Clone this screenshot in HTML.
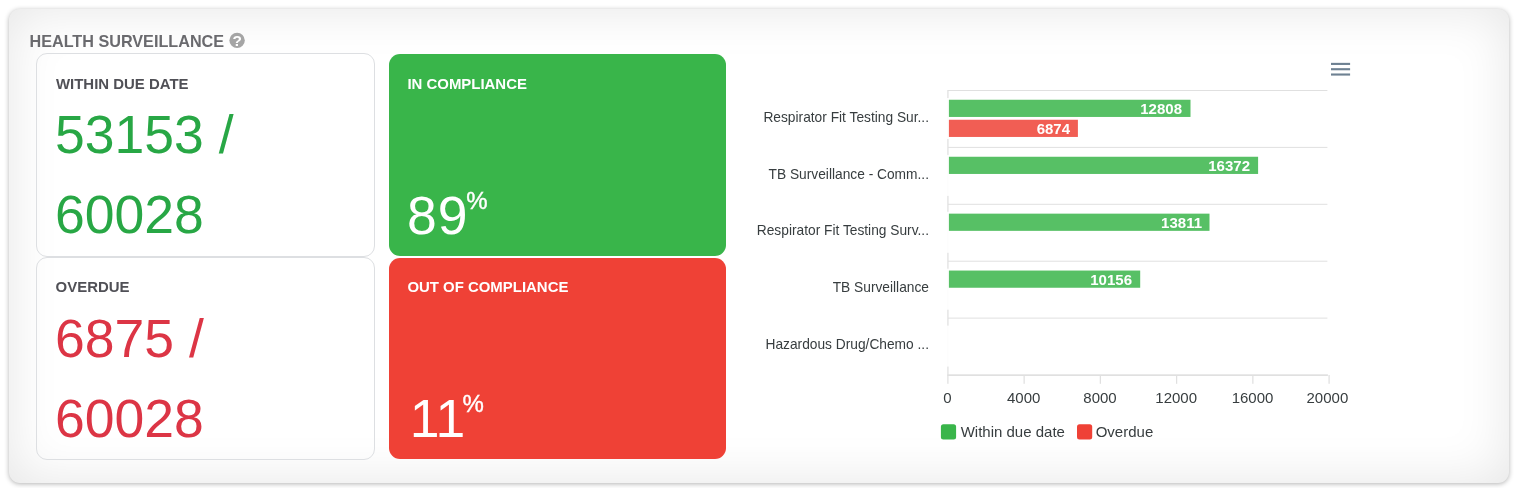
<!DOCTYPE html>
<html>
<head>
<meta charset="utf-8">
<style>
*{box-sizing:border-box;margin:0;padding:0}
html,body{width:1518px;height:488px;background:#fff;overflow:hidden;font-family:"Liberation Sans",Arial,sans-serif}
.panel{position:absolute;left:9px;top:9px;width:1500px;height:473.75px;border-radius:11px;background:#fff;box-shadow:inset 0 0 52px rgba(0,0,0,.10),0 1px 5px rgba(0,0,0,.30)}
.title{position:absolute;left:29.5px;top:32px;font-size:16.2px;font-weight:bold;color:#6a6a6e;line-height:18px;white-space:nowrap}
.help{position:absolute;left:228px;top:31px;width:18px;height:18px}
.card{position:absolute;width:339px;border-radius:11px}
.card.w{background:transparent;border:1px solid #dddfe2}
.lbl{position:absolute;left:19px;top:20.6px;font-size:14.95px;font-weight:bold;line-height:18px;color:#505056;white-space:nowrap}
.big{position:absolute;left:18px;font-size:53.5px;line-height:80.25px;white-space:nowrap}
.g{color:#28a745}.r{color:#dc3545}
.pct{position:absolute;font-size:24px;line-height:24px;color:#fff;-webkit-text-stroke:0.4px #fff}
svg text{font-family:"Liberation Sans",Arial,sans-serif}
</style>
</head>
<body>
<div class="panel"></div>
<div class="title">HEALTH SURVEILLANCE</div>
<svg class="help" viewBox="0 0 18 18"><circle cx="9.1" cy="9.4" r="7.7" fill="#a5a5a5"/><text x="9.2" y="15.3" font-size="15.4" font-weight="bold" fill="#fff" text-anchor="middle">?</text></svg>

<div class="card w" style="left:36px;top:53px;height:204px">
  <div class="lbl">WITHIN DUE DATE</div>
  <div class="big g" style="top:40.7px">53153 /</div>
  <div class="big g" style="top:120.95px">60028</div>
</div>
<div class="card w" style="left:36px;top:257px;height:203px">
  <div class="lbl" style="top:19.9px;left:18.6px">OVERDUE</div>
  <div class="big r" style="top:40.5px">6875 /</div>
  <div class="big r" style="top:120.8px">60028</div>
</div>
<div class="card" style="left:389px;top:54px;width:337px;height:202px;background:#39b54a">
  <div class="lbl" style="color:#fff;left:18.4px">IN COMPLIANCE</div>
  <div class="big" style="color:#fff;top:121.7px;letter-spacing:1.1px">89</div>
  <div class="pct" style="left:77.3px;top:134.8px">%</div>
</div>
<div class="card" style="left:389px;top:258px;width:337px;height:201px;background:#ef4136">
  <div class="lbl" style="color:#fff;left:18.4px;top:19.7px">OUT OF COMPLIANCE</div>
  <div class="big" style="color:#fff;top:120.8px;left:20.7px">11</div>
  <div class="pct" style="left:73.5px;top:134.1px">%</div>
</div>

<svg style="position:absolute;left:740px;top:50px" width="640" height="410" viewBox="740 50 640 410">
  <g fill="#6e8192"><rect x="1331" y="62.85" width="19.1" height="2.12"/><rect x="1331" y="68.16" width="19.1" height="2.12"/><rect x="1331" y="73.47" width="19.1" height="2.12"/></g>
  <rect x="947.3" y="90" width="1.25" height="285" fill="#e0e0e0"/>
  <rect x="946" y="98.0" width="3" height="41" fill="#fff" fill-opacity="0.9"/>
  <rect x="946" y="154.9" width="3" height="41" fill="#fff" fill-opacity="0.9"/>
  <rect x="946" y="211.8" width="3" height="41" fill="#fff" fill-opacity="0.9"/>
  <rect x="946" y="268.7" width="3" height="41" fill="#fff" fill-opacity="0.9"/>
  <rect x="946" y="325.6" width="3" height="41" fill="#fff" fill-opacity="0.9"/>
  <rect x="948" y="90.00" width="379.4" height="1" fill="#e0e0e0"/>
  <rect x="948" y="146.90" width="379.4" height="1" fill="#e0e0e0"/>
  <rect x="948" y="203.80" width="379.4" height="1" fill="#e0e0e0"/>
  <rect x="948" y="260.70" width="379.4" height="1" fill="#e0e0e0"/>
  <rect x="948" y="317.60" width="379.4" height="1" fill="#e0e0e0"/>
  <rect x="947.3" y="374.3" width="380.6" height="1.7" fill="#e0e0e0"/>
  <rect x="947.27" y="375" width="1.25" height="8.8" fill="#e0e0e0"/>
  <rect x="1023.51" y="375" width="1.25" height="8.8" fill="#e0e0e0"/>
  <rect x="1099.75" y="375" width="1.25" height="8.8" fill="#e0e0e0"/>
  <rect x="1175.99" y="375" width="1.25" height="8.8" fill="#e0e0e0"/>
  <rect x="1252.23" y="375" width="1.25" height="8.8" fill="#e0e0e0"/>
  <rect x="1328.47" y="375" width="1.25" height="8.8" fill="#e0e0e0"/>
  <rect x="948.9" y="99.75" width="241.6" height="17.2" fill="#57c065"/>
  <rect x="948.9" y="156.75" width="309.2" height="17.2" fill="#57c065"/>
  <rect x="948.9" y="213.65" width="260.6" height="17.2" fill="#57c065"/>
  <rect x="948.9" y="270.55" width="191.3" height="17.2" fill="#57c065"/>
  <rect x="948.9" y="119.75" width="129" height="17.2" fill="#f15e54"/>
  <g font-size="15" font-weight="bold" fill="#fff" text-anchor="end">
    <text x="1182" y="114.2">12808</text>
    <text x="1070" y="134.2">6874</text>
    <text x="1250" y="171.1">16372</text>
    <text x="1202" y="228">13811</text>
    <text x="1132" y="284.9">10156</text>
  </g>
  <g font-size="13.75" fill="#373d3f" text-anchor="end">
    <text x="929" y="122">Respirator Fit Testing Sur...</text>
    <text x="929" y="179">TB Surveillance - Comm...</text>
    <text x="929" y="235">Respirator Fit Testing Surv...</text>
    <text x="929" y="292">TB Surveillance</text>
    <text x="929" y="349">Hazardous Drug/Chemo ...</text>
  </g>
  <g font-size="15" fill="#373d3f" text-anchor="middle">
    <text x="947.5" y="402.9">0</text>
    <text x="1023.7" y="402.9">4000</text>
    <text x="1100.0" y="402.9">8000</text>
    <text x="1176.2" y="402.9">12000</text>
    <text x="1252.5" y="402.9">16000</text>
    <text x="1327.4" y="402.9">20000</text>
  </g>
  <rect x="940.9" y="424.3" width="15.2" height="15.2" rx="2.5" fill="#39b54a"/>
  <rect x="1077" y="424.3" width="15.2" height="15.2" rx="2.5" fill="#ef4136"/>
  <g font-size="15" fill="#373d3f">
    <text x="960.7" y="436.8">Within due date</text>
    <text x="1095.7" y="436.8">Overdue</text>
  </g>
</svg>
</body>
</html>
